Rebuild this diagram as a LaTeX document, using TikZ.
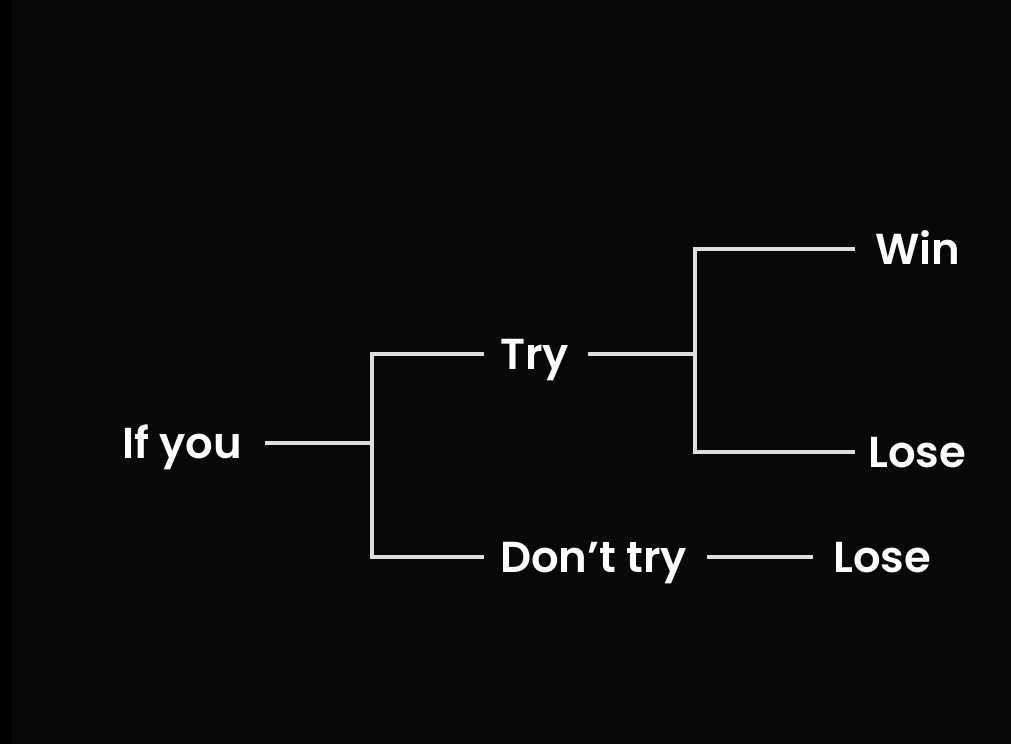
\documentclass[tikz,border=0pt]{standalone}
\usepackage{fontspec}
\setmainfont{Poppins}[BoldFont={Poppins SemiBold}]
\definecolor{bg}{HTML}{080808}
\definecolor{linecol}{HTML}{DEDEDE}
\tikzset{
  lbl/.style={font=\bfseries\fontsize{32.5}{38}\selectfont, text=white, inner sep=0pt,
    anchor=west, text height=23pt, text depth=0pt},
  conn/.style={draw=linecol, line width=2.3pt, line cap=butt, line join=miter}
}
\begin{document}
\begin{tikzpicture}[x=0.75pt, y=-0.75pt]
\useasboundingbox (0,0) rectangle (1011,744);
\fill[bg] (0,0) rectangle (1011,744);
\fill[black] (0,0) rectangle (12,744);
% labels
\node[lbl] (ifyou) at (122,443) {If you};
\node[lbl] (try) at (500,354) {Try};
\node[lbl] (dont) at (500,557) {Don’t try};
\node[lbl] (win) at (875,249) {Win};
\node[lbl] (lose1) at (868,452) {Lose};
\node[lbl] (lose2) at (833,557) {Lose};
% junctions
\coordinate (j1) at (372,444);
\coordinate (j2) at (695,353);
% connectors
\draw[conn] ([xshift=17pt]ifyou.east) -- (ifyou.east -| j1);
\draw[conn] ([xshift=-12pt]try.west) -- (try.west -| j1) -- (dont.west -| j1) -- ([xshift=-12pt]dont.west);
\draw[conn] ([xshift=14pt]try.east) -- (try.east -| j2);
\draw[conn] ([xshift=-15pt]win.west) -- (win.west -| j2) -- (lose1.west -| j2) -- ([xshift=-10pt]lose1.west);
\draw[conn] ([xshift=15pt]dont.east) -- ([xshift=-15pt]lose2.west);
\end{tikzpicture}
\end{document}
